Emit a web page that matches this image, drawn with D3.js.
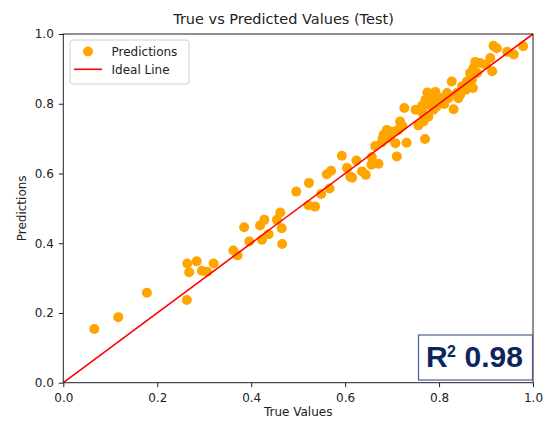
<!DOCTYPE html>
<html>
<head>
<meta charset="utf-8">
<script src="https://cdn.jsdelivr.net/npm/d3@7"></script>
<style>
  html, body { margin: 0; padding: 0; background: #fff; }
  svg { display: block; }
</style>
</head>
<body>
<svg id="chart" width="549" height="422"></svg>
<script>
// ---- data ----
const trueValues = [
  0.066, 0.117, 0.178, 0.263, 0.264, 0.284, 0.268, 0.295, 0.306, 0.320,
  0.362, 0.371, 0.385, 0.396, 0.419, 0.428, 0.423, 0.437, 0.455, 0.462,
  0.465, 0.466, 0.496, 0.523, 0.522, 0.536, 0.549, 0.561, 0.570, 0.567,
  0.593, 0.604, 0.611, 0.615, 0.624, 0.636, 0.644, 0.657, 0.656, 0.671,
  0.664, 0.678, 0.710, 0.682, 0.689, 0.703, 0.707, 0.731, 0.717, 0.726,
  0.750, 0.756, 0.767, 0.770, 0.788, 0.775, 0.781, 0.792, 0.798, 0.771,
  0.777, 0.785, 0.794, 0.802, 0.765, 0.777, 0.764, 0.817, 0.827, 0.831,
  0.841, 0.838, 0.845, 0.849, 0.857, 0.859, 0.866, 0.870, 0.872, 0.873,
  0.877, 0.888, 0.899, 0.881, 0.909, 0.913, 0.916, 0.923, 0.945, 0.959,
  0.979, 0.696, 0.713, 0.722, 0.693, 0.811, 0.820, 0.680, 0.700, 0.786
];
const predictedValues = [
  0.154, 0.188, 0.258, 0.237, 0.342, 0.348, 0.317, 0.321, 0.318, 0.342,
  0.379, 0.365, 0.446, 0.405, 0.451, 0.467, 0.410, 0.426, 0.467, 0.488,
  0.443, 0.398, 0.548, 0.573, 0.509, 0.505, 0.541, 0.598, 0.608, 0.557,
  0.651, 0.616, 0.591, 0.588, 0.637, 0.606, 0.596, 0.647, 0.625, 0.628,
  0.679, 0.689, 0.649, 0.711, 0.725, 0.720, 0.687, 0.688, 0.749, 0.788,
  0.783, 0.738, 0.749, 0.699, 0.783, 0.832, 0.823, 0.834, 0.811, 0.811,
  0.797, 0.806, 0.791, 0.817, 0.774, 0.763, 0.794, 0.831, 0.864, 0.784,
  0.816, 0.831, 0.826, 0.850, 0.840, 0.864, 0.888, 0.869, 0.845, 0.902,
  0.920, 0.917, 0.912, 0.888, 0.931, 0.893, 0.966, 0.959, 0.949, 0.941,
  0.965, 0.711, 0.725, 0.736, 0.702, 0.799, 0.816, 0.700, 0.718, 0.818
];
const idealLine = [0, 1];
const xTicks = [0.0, 0.2, 0.4, 0.6, 0.8, 1.0];
const yTicks = [0.0, 0.2, 0.4, 0.6, 0.8, 1.0];
const titleText = "True vs Predicted Values (Test)";
const xLabel = "True Values";
const yLabel = "Predictions";
const legendLabels = ["Predictions", "Ideal Line"];
const r2Value = "0.98";

// ---- layout ----
const W = 549, H = 422;
const margin = { left: 63.3, top: 34, right: 16, bottom: 39.3 };
const iw = W - margin.left - margin.right;
const ih = H - margin.top - margin.bottom;
const baseFont = "'DejaVu Sans', sans-serif";

const svg = d3.select("#chart");
const g = svg.append("g").attr("transform", `translate(${margin.left},${margin.top})`);

const x = d3.scaleLinear().domain([0, 1]).range([0, iw]);
const y = d3.scaleLinear().domain([0, 1]).range([ih, 0]);

// points
const pts = trueValues.map((v, i) => ({ t: v, p: predictedValues[i] }));
g.append("g").selectAll("circle").data(pts).join("circle")
  .attr("cx", d => x(d.t)).attr("cy", d => y(d.p)).attr("r", 5)
  .attr("fill", "#FFA500");

// ideal line
g.append("line")
  .attr("x1", x(idealLine[0])).attr("y1", y(idealLine[0]))
  .attr("x2", x(idealLine[1])).attr("y2", y(idealLine[1]))
  .attr("stroke", "#FF0000").attr("stroke-width", 1.6);

// axes
const xAxis = d3.axisBottom(x).tickValues(xTicks).tickFormat(d3.format(".1f")).tickSize(4.5).tickPadding(6);
const yAxis = d3.axisLeft(y).tickValues(yTicks).tickFormat(d3.format(".1f")).tickSize(4.5).tickPadding(5);
const gx = g.append("g").attr("transform", `translate(0,${ih})`).call(xAxis);
const gy = g.append("g").call(yAxis);
[gx, gy].forEach(a => {
  a.select(".domain").remove();
  a.selectAll("line").attr("stroke", "#222");
  a.selectAll("text").attr("font-size", 12).attr("fill", "#222")
    .style("font-family", baseFont);
});

// frame
g.append("rect").attr("x", 0).attr("y", 0).attr("width", iw).attr("height", ih)
  .attr("fill", "none").attr("stroke", "#222").attr("stroke-width", 1);

// title and labels
svg.append("text").attr("x", 283.5).attr("y", 24).attr("text-anchor", "middle")
  .style("font-family", baseFont).attr("font-size", 14.5).attr("fill", "#222").text(titleText);
svg.append("text").attr("x", margin.left + iw / 2).attr("y", 416).attr("text-anchor", "middle")
  .style("font-family", baseFont).attr("font-size", 12).attr("fill", "#222").text(xLabel);
svg.append("text").attr("transform", `translate(26,${margin.top + ih / 2}) rotate(-90)`)
  .style("font-family", baseFont)
  .attr("text-anchor", "middle").attr("font-size", 12).attr("fill", "#222").text(yLabel);

// legend
const lg = svg.append("g");
lg.append("rect").attr("x", 70).attr("y", 40).attr("width", 119).attr("height", 44)
  .attr("rx", 3).attr("fill", "#fff").attr("fill-opacity", 0.85)
  .attr("stroke", "#d0d0d0").attr("stroke-width", 1);
lg.append("circle").attr("cx", 88).attr("cy", 51.5).attr("r", 5).attr("fill", "#FFA500");
lg.append("line").attr("x1", 74).attr("x2", 102).attr("y1", 69.3).attr("y2", 69.3)
  .attr("stroke", "#FF0000").attr("stroke-width", 1.6);
lg.append("text").attr("x", 111.5).attr("y", 56).style("font-family", baseFont)
  .attr("font-size", 12).attr("fill", "#222").text(legendLabels[0]);
lg.append("text").attr("x", 111.5).attr("y", 74).style("font-family", baseFont)
  .attr("font-size", 12).attr("fill", "#222").text(legendLabels[1]);

// R^2 box
const rb = svg.append("g");
rb.append("rect").attr("x", 418.5).attr("y", 335).attr("width", 114).attr("height", 45)
  .attr("fill", "#fff").attr("stroke", "#4a5c9c").attr("stroke-width", 1.2);
const rt = rb.append("text").attr("y", 367)
  .style("font-family", "'Liberation Sans', Arial, sans-serif")
  .style("font-weight", "bold").attr("fill", "#0c2560");
rt.append("tspan").attr("x", 426).attr("font-size", 30).text("R");
rt.append("tspan").attr("x", 447).attr("dy", -10).attr("font-size", 16).text("2");
rt.append("tspan").attr("x", 464.5).attr("dy", 10).attr("font-size", 30).text(r2Value);
</script>
</body>
</html>
